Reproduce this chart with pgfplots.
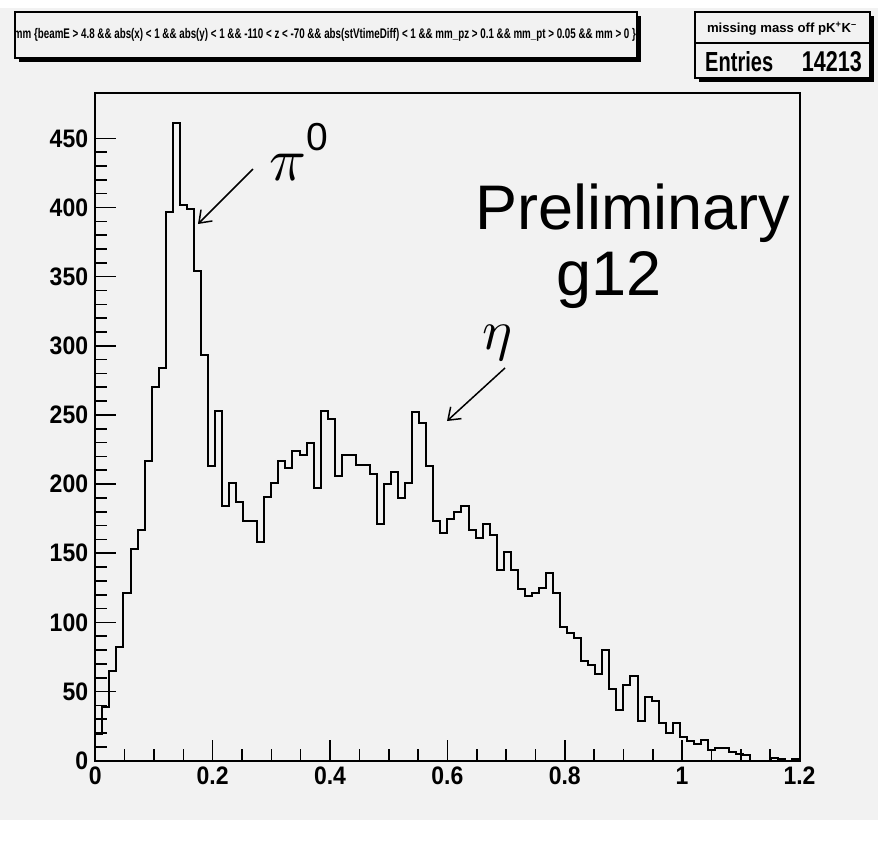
\documentclass[border=0pt]{standalone}
\usepackage{fontspec}
\setmainfont{Liberation Sans}
\usepackage{pgfplots}
\pgfplotsset{compat=1.18}
\usepackage{pgfplotstable}
\usetikzlibrary{arrows.meta}
\definecolor{bg}{HTML}{F2F2F2}
\newcommand{\tl}[1]{\scalebox{1}[1.1]{\bfseries\fontsize{23}{23}\selectfont #1}}

\pgfplotstableread{
x y
0.000 19
0.012 39
0.024 65
0.036 82
0.048 121
0.060 153
0.072 167
0.084 217
0.096 270
0.108 284
0.120 397
0.132 461
0.144 402
0.156 399
0.168 354
0.180 293
0.192 213
0.204 253
0.216 184
0.228 201
0.240 187
0.252 173
0.264 173
0.276 158
0.288 191
0.300 201
0.312 217
0.324 212
0.336 224
0.348 221
0.360 230
0.372 197
0.384 253
0.396 247
0.408 206
0.420 221
0.432 221
0.444 214
0.456 214
0.468 207
0.480 171
0.492 200
0.504 209
0.516 190
0.528 201
0.540 252
0.552 244
0.564 213
0.576 173
0.588 165
0.600 175
0.612 180
0.624 184
0.636 167
0.648 161
0.660 171
0.672 163
0.684 138
0.696 151
0.708 138
0.720 124
0.732 119
0.744 121
0.756 125
0.768 136
0.780 121
0.792 97
0.804 92
0.816 89
0.828 72
0.840 69
0.852 63
0.864 80
0.876 52
0.888 37
0.900 55
0.912 61
0.924 29
0.936 46
0.948 43
0.960 27
0.972 20
0.984 27
0.996 17
1.008 14
1.020 12
1.032 15
1.044 8
1.056 9
1.068 9
1.080 6
1.092 5
1.104 4
1.116 0
1.128 0
1.140 0
1.152 2
1.164 1
1.176 0
1.188 1
1.200 1
}\histdata

\begin{document}
\begin{tikzpicture}[x=1pt,y=1pt]
\fill[white] (0,0) rectangle (878,-841);
\fill[bg] (0,-8) rectangle (878,-820);

% title box
\fill[black] (19,-16) rectangle (641,-62);
\filldraw[fill=bg, draw=black, line width=1.5pt] (15,-12) rectangle (637,-58);
\node at (325,-35) {\resizebox*{622pt}{13pt}{\bfseries mm \{beamE > 4.8 \&\& abs(x) < 1 \&\& abs(y) < 1 \&\& -110 < z < -70 \&\& abs(stVtimeDiff) < 1 \&\& mm\_pz > 0.1 \&\& mm\_pt > 0.05 \&\& mm > 0 \}}};

% stats box
\fill[black] (699,-16) rectangle (874,-82);
\filldraw[fill=bg, draw=black, line width=1.5pt] (695,-12) rectangle (870,-78);
\draw[line width=1.5pt] (695,-43) -- (870,-43);
\node at (782,-29) {\resizebox{150pt}{!}{\bfseries missing mass off pK\textsuperscript{+}K\textsuperscript{--}}};
\node[anchor=base west, inner sep=0pt] at (705,-71) {\resizebox{68pt}{20pt}{\bfseries Entries}};
\node[anchor=base east, inner sep=0pt] at (862,-71) {\resizebox{60pt}{20pt}{\bfseries 14213}};

\begin{axis}[
  at={(95.3pt,-760.7pt)}, anchor=south west,
  scale only axis, width=704.2pt, height=668pt,
  xmin=0, xmax=1.2, ymin=0, ymax=483,
  axis line style={line width=2pt},
  axis background/.style={fill=bg},
  tick align=inside, tick pos=left,
  xtick={0,0.2,0.4,0.6,0.8,1,1.2},
  xticklabels={\tl{0},\tl{0.2},\tl{0.4},\tl{0.6},\tl{0.8},\tl{1},\tl{1.2}},
  minor x tick num=3,
  ytick={0,50,100,150,200,250,300,350,400,450},
  yticklabels={\tl{0},\tl{50},\tl{100},\tl{150},\tl{200},\tl{250},\tl{300},\tl{350},\tl{400},\tl{450}},
  minor y tick num=4,
  major tick length=21pt, minor tick length=11.5pt,
  tick style={line width=1.6pt, black},
  yticklabel style={inner sep=0pt, xshift=-7pt},
  xticklabel style={inner sep=0pt, yshift=-6pt},
]
\addplot[const plot mark left, line width=2pt, black] table[x=x,y=y]{\histdata};
\end{axis}

% annotations
\node[anchor=base west, inner sep=0pt] at (475,-229) {\fontsize{63}{63}\selectfont Preliminary};
\node[anchor=base west, inner sep=0pt] at (556,-295) {\fontsize{63}{63}\selectfont g12};
\node[anchor=base west, inner sep=0pt] at (269,-180) {\resizebox{37pt}{!}{$\pi$}};
\node[anchor=base west, inner sep=0pt] at (306,-150) {\fontsize{39}{39}\selectfont 0};
\node[anchor=north west, inner sep=0pt] at (482,-325) {\resizebox{30pt}{!}{$\eta$}};
\draw[line width=1.5pt, -{Straight Barb[length=11pt,width=16pt]}] (253,-169) -- (198,-224);
\draw[line width=1.5pt, -{Straight Barb[length=11pt,width=16pt]}] (505,-368) -- (447,-421);
\end{tikzpicture}
\end{document}
